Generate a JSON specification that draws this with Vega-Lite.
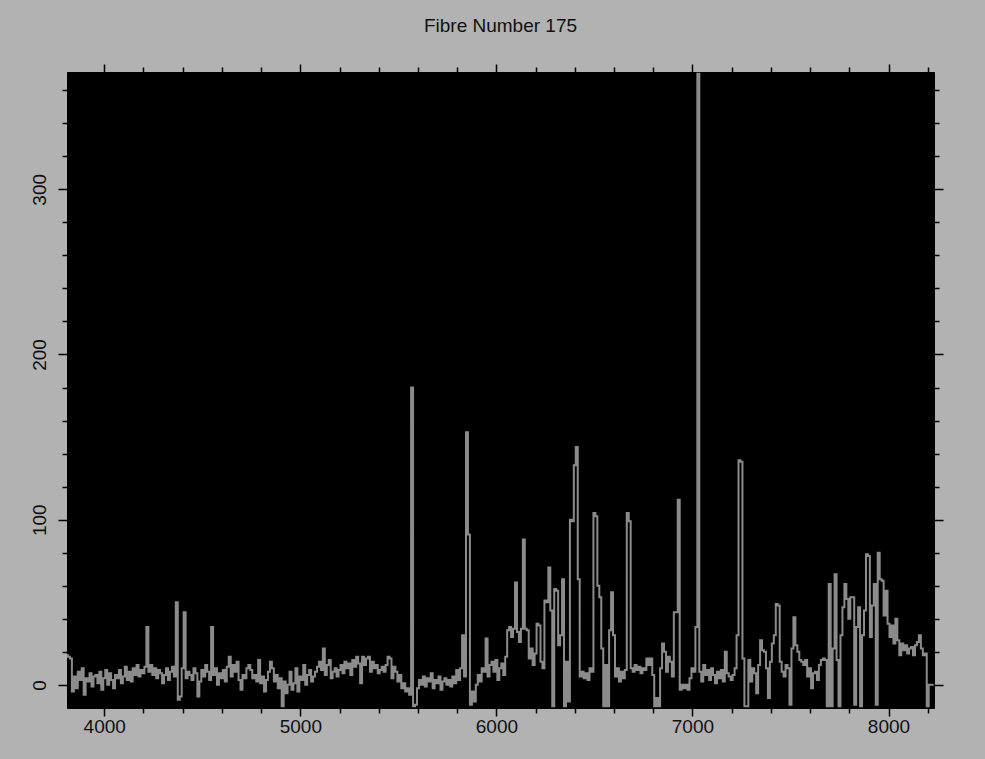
{
"$schema": "https://vega.github.io/schema/vega-lite/v6.json",
"autosize": {"type": "none"},
"padding": {"left": 67, "top": 72, "right": 51, "bottom": 51},
"width": 867,
"height": 636,
"background": "#b2b2b2",
"title": {"text": "Fibre Number 175", "fontSize": 19, "fontWeight": "normal", "font": "Liberation Sans", "color": "#111111", "offset": 27, "anchor": "middle"},
"config": {
  "view": {"fill": "#000000", "stroke": "#000000"},
  "axis": {"domain": false, "grid": false, "tickColor": "#000000", "tickWidth": 1.5, "labelFont": "Liberation Sans", "labelFontSize": 19, "labelColor": "#111111", "title": null}
},
"data": {"values": [
{"w":3810,"f":18},{"w":3820,"f":17},{"w":3830,"f":16},{"w":3840,"f":-4},{"w":3850,"f":5},{"w":3860,"f":-2},{"w":3870,"f":8},{"w":3880,"f":3},{"w":3890,"f":10},{"w":3900,"f":-6},
{"w":3910,"f":4},{"w":3920,"f":2},{"w":3930,"f":7},{"w":3940,"f":-1},{"w":3950,"f":5},{"w":3960,"f":6},{"w":3970,"f":1},{"w":3980,"f":8},{"w":3990,"f":-3},{"w":4000,"f":4},
{"w":4010,"f":9},{"w":4020,"f":0},{"w":4030,"f":7},{"w":4040,"f":3},{"w":4050,"f":-2},{"w":4060,"f":6},{"w":4070,"f":4},{"w":4080,"f":9},{"w":4090,"f":1},{"w":4100,"f":5},
{"w":4110,"f":11},{"w":4120,"f":3},{"w":4130,"f":8},{"w":4140,"f":2},{"w":4150,"f":10},{"w":4160,"f":6},{"w":4170,"f":12},{"w":4180,"f":5},{"w":4190,"f":9},{"w":4200,"f":7},
{"w":4210,"f":11},{"w":4220,"f":35},{"w":4230,"f":8},{"w":4240,"f":12},{"w":4250,"f":6},{"w":4260,"f":10},{"w":4270,"f":4},{"w":4280,"f":9},{"w":4290,"f":7},{"w":4300,"f":1},
{"w":4310,"f":6},{"w":4320,"f":10},{"w":4330,"f":3},{"w":4340,"f":8},{"w":4350,"f":11},{"w":4360,"f":5},{"w":4370,"f":50},{"w":4380,"f":-9},{"w":4390,"f":-7},{"w":4400,"f":10},
{"w":4410,"f":44},{"w":4420,"f":4},{"w":4430,"f":8},{"w":4440,"f":6},{"w":4450,"f":3},{"w":4460,"f":10},{"w":4470,"f":7},{"w":4480,"f":-7},{"w":4490,"f":2},{"w":4500,"f":9},
{"w":4510,"f":5},{"w":4520,"f":12},{"w":4530,"f":8},{"w":4540,"f":3},{"w":4550,"f":35},{"w":4560,"f":6},{"w":4570,"f":10},{"w":4580,"f":0},{"w":4590,"f":7},{"w":4600,"f":4},
{"w":4610,"f":9},{"w":4620,"f":2},{"w":4630,"f":11},{"w":4640,"f":17},{"w":4650,"f":5},{"w":4660,"f":12},{"w":4670,"f":8},{"w":4680,"f":14},{"w":4690,"f":3},{"w":4700,"f":-3},
{"w":4710,"f":6},{"w":4720,"f":4},{"w":4730,"f":10},{"w":4740,"f":12},{"w":4750,"f":9},{"w":4760,"f":4},{"w":4770,"f":6},{"w":4780,"f":2},{"w":4790,"f":15},{"w":4800,"f":1},
{"w":4810,"f":5},{"w":4820,"f":-4},{"w":4830,"f":3},{"w":4840,"f":8},{"w":4850,"f":14},{"w":4860,"f":10},{"w":4870,"f":2},{"w":4880,"f":6},{"w":4890,"f":-2},{"w":4900,"f":4},
{"w":4910,"f":-13},{"w":4920,"f":2},{"w":4930,"f":-5},{"w":4940,"f":0},{"w":4950,"f":8},{"w":4960,"f":-3},{"w":4970,"f":1},{"w":4980,"f":10},{"w":4990,"f":-4},{"w":5000,"f":5},
{"w":5010,"f":3},{"w":5020,"f":12},{"w":5030,"f":0},{"w":5040,"f":6},{"w":5050,"f":9},{"w":5060,"f":2},{"w":5070,"f":5},{"w":5080,"f":8},{"w":5090,"f":11},{"w":5100,"f":14},
{"w":5110,"f":9},{"w":5120,"f":22},{"w":5130,"f":6},{"w":5140,"f":12},{"w":5150,"f":15},{"w":5160,"f":4},{"w":5170,"f":8},{"w":5180,"f":10},{"w":5190,"f":5},{"w":5200,"f":9},
{"w":5210,"f":12},{"w":5220,"f":7},{"w":5230,"f":14},{"w":5240,"f":10},{"w":5250,"f":13},{"w":5260,"f":6},{"w":5270,"f":15},{"w":5280,"f":11},{"w":5290,"f":17},{"w":5300,"f":13},
{"w":5310,"f":1},{"w":5320,"f":17},{"w":5330,"f":12},{"w":5340,"f":16},{"w":5350,"f":17},{"w":5360,"f":8},{"w":5370,"f":14},{"w":5380,"f":10},{"w":5390,"f":12},{"w":5400,"f":7},
{"w":5410,"f":9},{"w":5420,"f":11},{"w":5430,"f":8},{"w":5440,"f":12},{"w":5450,"f":17},{"w":5460,"f":16},{"w":5470,"f":4},{"w":5480,"f":11},{"w":5490,"f":8},{"w":5500,"f":2},
{"w":5510,"f":6},{"w":5520,"f":-2},{"w":5530,"f":1},{"w":5540,"f":-4},{"w":5550,"f":-2},{"w":5560,"f":-6},{"w":5570,"f":180},{"w":5580,"f":-13},{"w":5590,"f":-12},{"w":5600,"f":-2},
{"w":5610,"f":3},{"w":5620,"f":0},{"w":5630,"f":5},{"w":5640,"f":-1},{"w":5650,"f":4},{"w":5660,"f":2},{"w":5670,"f":7},{"w":5680,"f":-2},{"w":5690,"f":3},{"w":5700,"f":1},
{"w":5710,"f":5},{"w":5720,"f":-3},{"w":5730,"f":2},{"w":5740,"f":4},{"w":5750,"f":0},{"w":5760,"f":3},{"w":5770,"f":-1},{"w":5780,"f":5},{"w":5790,"f":1},{"w":5800,"f":9},
{"w":5810,"f":3},{"w":5820,"f":10},{"w":5830,"f":30},{"w":5840,"f":5},{"w":5850,"f":153},{"w":5860,"f":91},{"w":5870,"f":-12},{"w":5880,"f":-4},{"w":5890,"f":-10},{"w":5900,"f":0},
{"w":5910,"f":6},{"w":5920,"f":2},{"w":5930,"f":10},{"w":5940,"f":8},{"w":5950,"f":28},{"w":5960,"f":5},{"w":5970,"f":12},{"w":5980,"f":14},{"w":5990,"f":8},{"w":6000,"f":15},
{"w":6010,"f":3},{"w":6020,"f":10},{"w":6030,"f":13},{"w":6040,"f":6},{"w":6050,"f":17},{"w":6060,"f":33},{"w":6070,"f":35},{"w":6080,"f":29},{"w":6090,"f":34},{"w":6100,"f":62},
{"w":6110,"f":32},{"w":6120,"f":26},{"w":6130,"f":34},{"w":6140,"f":88},{"w":6150,"f":34},{"w":6160,"f":33},{"w":6170,"f":16},{"w":6180,"f":22},{"w":6190,"f":12},{"w":6200,"f":19},
{"w":6210,"f":37},{"w":6220,"f":36},{"w":6230,"f":14},{"w":6240,"f":10},{"w":6250,"f":51},{"w":6260,"f":50},{"w":6270,"f":71},{"w":6280,"f":45},{"w":6290,"f":-13},{"w":6300,"f":58},
{"w":6310,"f":57},{"w":6320,"f":24},{"w":6330,"f":30},{"w":6340,"f":64},{"w":6350,"f":-13},{"w":6360,"f":14},{"w":6370,"f":-10},{"w":6380,"f":100},{"w":6390,"f":99},{"w":6400,"f":133},
{"w":6410,"f":144},{"w":6420,"f":64},{"w":6430,"f":5},{"w":6440,"f":8},{"w":6450,"f":4},{"w":6460,"f":7},{"w":6470,"f":3},{"w":6480,"f":10},{"w":6490,"f":8},{"w":6500,"f":104},
{"w":6510,"f":102},{"w":6520,"f":60},{"w":6530,"f":53},{"w":6540,"f":22},{"w":6550,"f":-13},{"w":6560,"f":12},{"w":6570,"f":-13},{"w":6580,"f":33},{"w":6590,"f":56},{"w":6600,"f":30},
{"w":6610,"f":5},{"w":6620,"f":10},{"w":6630,"f":2},{"w":6640,"f":8},{"w":6650,"f":4},{"w":6660,"f":9},{"w":6670,"f":104},{"w":6680,"f":99},{"w":6690,"f":10},{"w":6700,"f":8},
{"w":6710,"f":12},{"w":6720,"f":9},{"w":6730,"f":11},{"w":6740,"f":7},{"w":6750,"f":10},{"w":6760,"f":9},{"w":6770,"f":16},{"w":6780,"f":12},{"w":6790,"f":16},{"w":6800,"f":6},
{"w":6810,"f":-13},{"w":6820,"f":-8},{"w":6830,"f":-13},{"w":6840,"f":10},{"w":6850,"f":25},{"w":6860,"f":20},{"w":6870,"f":8},{"w":6880,"f":17},{"w":6890,"f":14},{"w":6900,"f":5},
{"w":6910,"f":44},{"w":6920,"f":44},{"w":6930,"f":112},{"w":6940,"f":-3},{"w":6950,"f":0},{"w":6960,"f":-2},{"w":6970,"f":0},{"w":6980,"f":-3},{"w":6990,"f":4},{"w":7000,"f":10},
{"w":7010,"f":8},{"w":7020,"f":35},{"w":7030,"f":370},{"w":7040,"f":8},{"w":7050,"f":2},{"w":7060,"f":12},{"w":7070,"f":6},{"w":7080,"f":9},{"w":7090,"f":3},{"w":7100,"f":10},
{"w":7110,"f":6},{"w":7120,"f":1},{"w":7130,"f":8},{"w":7140,"f":4},{"w":7150,"f":9},{"w":7160,"f":2},{"w":7170,"f":20},{"w":7180,"f":7},{"w":7190,"f":5},{"w":7200,"f":3},
{"w":7210,"f":6},{"w":7220,"f":10},{"w":7230,"f":30},{"w":7240,"f":136},{"w":7250,"f":135},{"w":7260,"f":16},{"w":7270,"f":-13},{"w":7280,"f":-13},{"w":7290,"f":15},{"w":7300,"f":2},
{"w":7310,"f":10},{"w":7320,"f":7},{"w":7330,"f":-5},{"w":7340,"f":12},{"w":7350,"f":27},{"w":7360,"f":21},{"w":7370,"f":20},{"w":7380,"f":10},{"w":7390,"f":-8},{"w":7400,"f":14},
{"w":7410,"f":25},{"w":7420,"f":30},{"w":7430,"f":49},{"w":7440,"f":48},{"w":7450,"f":14},{"w":7460,"f":8},{"w":7470,"f":5},{"w":7480,"f":12},{"w":7490,"f":10},{"w":7500,"f":-12},
{"w":7510,"f":22},{"w":7520,"f":41},{"w":7530,"f":24},{"w":7540,"f":20},{"w":7550,"f":15},{"w":7560,"f":14},{"w":7570,"f":12},{"w":7580,"f":15},{"w":7590,"f":5},{"w":7600,"f":10},
{"w":7610,"f":-2},{"w":7620,"f":7},{"w":7630,"f":8},{"w":7640,"f":3},{"w":7650,"f":12},{"w":7660,"f":15},{"w":7670,"f":16},{"w":7680,"f":15},{"w":7690,"f":-13},{"w":7700,"f":61},
{"w":7710,"f":-13},{"w":7720,"f":22},{"w":7730,"f":67},{"w":7740,"f":15},{"w":7750,"f":-13},{"w":7760,"f":30},{"w":7770,"f":47},{"w":7780,"f":61},{"w":7790,"f":52},{"w":7800,"f":40},
{"w":7810,"f":53},{"w":7820,"f":53},{"w":7830,"f":-12},{"w":7840,"f":35},{"w":7850,"f":47},{"w":7860,"f":-13},{"w":7870,"f":30},{"w":7880,"f":45},{"w":7890,"f":79},{"w":7900,"f":78},
{"w":7910,"f":29},{"w":7920,"f":48},{"w":7930,"f":61},{"w":7940,"f":-12},{"w":7950,"f":80},{"w":7960,"f":64},{"w":7970,"f":63},{"w":7980,"f":42},{"w":7990,"f":57},{"w":8000,"f":37},
{"w":8010,"f":29},{"w":8020,"f":36},{"w":8030,"f":25},{"w":8040,"f":40},{"w":8050,"f":27},{"w":8060,"f":18},{"w":8070,"f":25},{"w":8080,"f":21},{"w":8090,"f":24},{"w":8100,"f":19},
{"w":8110,"f":22},{"w":8120,"f":23},{"w":8130,"f":18},{"w":8140,"f":24},{"w":8150,"f":26},{"w":8160,"f":30},{"w":8170,"f":22},{"w":8180,"f":18},{"w":8190,"f":19},{"w":8200,"f":-13},
{"w":8210,"f":0},{"w":8220,"f":0},{"w":8230,"f":0}
]},
"resolve": {"axis": {"x": "independent", "y": "independent"}},
"layer": [
  {
    "mark": {"type": "line", "interpolate": "step", "color": "#8b8b8b", "strokeWidth": 2, "clip": true},
    "encoding": {
      "x": {"field": "w", "type": "quantitative", "scale": {"domain": [3810, 8232], "nice": false, "zero": false},
        "axis": {"orient": "bottom", "values": [4000, 5000, 6000, 7000, 8000], "tickSize": 8, "labelPadding": 1, "format": "d"}},
      "y": {"field": "f", "type": "quantitative", "scale": {"domain": [-14, 371], "nice": false, "zero": false},
        "axis": {"orient": "left", "values": [0, 100, 200, 300], "tickSize": 9, "labelAngle": -90, "labelPadding": 9, "labelAlign": "center", "labelBaseline": "bottom", "format": "d"}}
    }
  },
  {
    "mark": {"type": "line", "strokeOpacity": 0},
    "encoding": {
      "x": {"field": "w", "type": "quantitative", "axis": {"orient": "bottom", "values": [4200, 4400, 4600, 4800, 5200, 5400, 5600, 5800, 6200, 6400, 6600, 6800, 7200, 7400, 7600, 7800, 8200], "tickSize": 5, "labels": false}},
      "y": {"field": "f", "type": "quantitative", "axis": {"orient": "left", "values": [20, 40, 60, 80, 120, 140, 160, 180, 220, 240, 260, 280, 320, 340, 360], "tickSize": 5, "labels": false}}
    }
  },
  {
    "mark": {"type": "line", "strokeOpacity": 0},
    "encoding": {
      "x": {"field": "w", "type": "quantitative", "axis": {"orient": "top", "values": [4000, 5000, 6000, 7000, 8000], "tickSize": 8, "labels": false}},
      "y": {"field": "f", "type": "quantitative", "axis": {"orient": "right", "values": [0, 100, 200, 300], "tickSize": 9, "labels": false}}
    }
  },
  {
    "mark": {"type": "line", "strokeOpacity": 0},
    "encoding": {
      "x": {"field": "w", "type": "quantitative", "axis": {"orient": "top", "values": [4200, 4400, 4600, 4800, 5200, 5400, 5600, 5800, 6200, 6400, 6600, 6800, 7200, 7400, 7600, 7800, 8200], "tickSize": 5, "labels": false}},
      "y": {"field": "f", "type": "quantitative", "axis": {"orient": "right", "values": [20, 40, 60, 80, 120, 140, 160, 180, 220, 240, 260, 280, 320, 340, 360], "tickSize": 5, "labels": false}}
    }
  }
]
}
